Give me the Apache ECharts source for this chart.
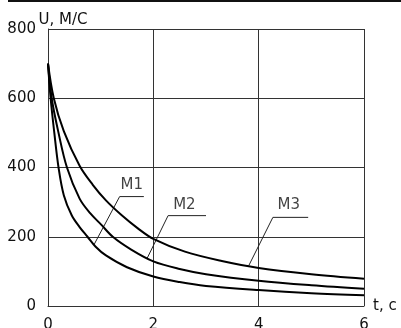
<!DOCTYPE html>
<html>
<head>
<meta charset="utf-8">
<script src="https://cdn.jsdelivr.net/npm/echarts@6/dist/echarts.min.js"></script>
<style>
  html, body { margin: 0; padding: 0; background: #fff; }
  #chart { width: 401px; height: 328px; }
</style>
</head>
<body>
<div id="chart"></div>
<script>
// кривые скорости U(t), [t, U]
var m1 = [[0, 700], [0.05, 600], [0.12, 500], [0.2, 400], [0.3, 320], [0.45, 262],
  [0.6, 228], [0.75, 200], [0.9, 172], [1.1, 146], [1.5, 112], [2, 85], [2.5, 69], [3, 58],
  [4, 46], [5, 37], [6, 31]]
var m2 = [[0, 700], [0.07, 600], [0.2, 500], [0.36, 400], [0.6, 310], [0.8, 268], [1.01, 235],
  [1.23, 200], [1.58, 163], [2, 129], [2.5, 107], [3, 92], [4, 73], [5, 60], [6, 50]]
var m3 = [[0, 700], [0.11, 600], [0.3, 505], [0.6, 405], [0.85, 350], [1.1, 305], [1.4, 262],
  [1.7, 225], [2, 194], [2.6, 157], [3.3, 130], [4, 110], [5, 92], [6, 79]]

// выноски: точка на кривой, излом, конец полки
var lead1 = [[0.87, 176], [1.36, 316], [1.82, 316]]
var lead2 = [[1.88, 137], [2.28, 261], [3.0, 261]]
var lead3 = [[3.81, 116], [4.27, 256], [4.94, 256]]
var labels = [[1.59, 348, 'M1'], [2.59, 290, 'M2'], [4.57, 290, 'M3']]

var xTicks = [0, 2, 4, 6]
var yTicks = [0, 200, 400, 600, 800]

var font = 'DejaVu Sans'
var chart = echarts.init(document.getElementById('chart'))

function curve (data) {
  return {
    type: 'line',
    data: data,
    smooth: 0.35,
    showSymbol: false,
    symbol: 'none',
    lineStyle: { color: '#000', width: 2 },
    z: 3
  }
}
function leader (data) {
  return {
    type: 'line',
    data: data,
    symbol: 'none',
    lineStyle: { color: '#222', width: 1 },
    z: 2
  }
}

var option = {
  animation: false,
  grid: { left: 48, right: 37, top: 29, bottom: 22, outerBoundsMode: 'none' },
  xAxis: {
    type: 'value',
    min: xTicks[0],
    max: xTicks[xTicks.length - 1],
    interval: 2,
    name: 't, c',
    nameLocation: 'end',
    nameGap: 9,
    nameMoveOverlap: false,
    nameTextStyle: { fontFamily: font, fontSize: 15, color: '#111', verticalAlign: 'middle', padding: [0, 0, 4, 0] },
    axisLine: { show: true, lineStyle: { color: '#333', width: 1 } },
    axisTick: { show: false },
    axisLabel: { fontFamily: font, fontSize: 15, color: '#111', margin: 12 },
    splitLine: { show: true, lineStyle: { color: '#333', width: 1 } }
  },
  yAxis: {
    type: 'value',
    min: yTicks[0],
    max: yTicks[yTicks.length - 1],
    interval: 200,
    name: 'U, M/C',
    nameLocation: 'end',
    nameGap: 9,
    nameMoveOverlap: false,
    nameTextStyle: { fontFamily: font, fontSize: 15, color: '#111', align: 'center', padding: [0, 0, 0, 30], verticalAlign: 'middle' },
    axisLine: { show: true, lineStyle: { color: '#333', width: 1 } },
    axisTick: { show: false },
    axisLabel: { fontFamily: font, fontSize: 15, color: '#111', margin: 12, padding: [0, 0, 3, 0] },
    splitLine: { show: true, lineStyle: { color: '#333', width: 1 } }
  },
  graphic: [{
    type: 'rect',
    shape: { x: 8, y: 0, width: 393, height: 2 },
    style: { fill: '#111' }
  }],
  series: [
    curve(m1), curve(m2), curve(m3),
    leader(lead1), leader(lead2), leader(lead3),
    {
      type: 'scatter',
      data: labels,
      symbolSize: 1,
      itemStyle: { color: 'rgba(0,0,0,0)' },
      label: {
        show: true,
        position: 'inside',
        formatter: function (p) { return p.value[2] },
        fontFamily: font,
        fontSize: 15,
        color: '#111'
      },
      z: 4
    }
  ]
}
chart.setOption(option)
</script>
</body>
</html>
